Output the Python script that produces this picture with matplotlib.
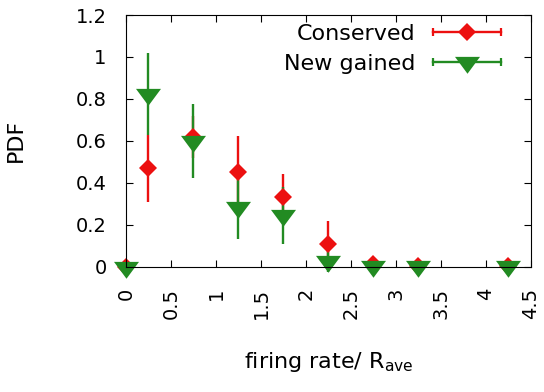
"""PDF of firing rates: conserved vs newly gained."""

import matplotlib
matplotlib.use('Agg')
from matplotlib import pyplot as plt
from matplotlib.lines import Line2D
from matplotlib.legend_handler import HandlerLine2D

plt.rcParams['font.family'] = ['DejaVu Sans']
plt.rcParams['mathtext.fontset'] = 'dejavusans'

# data
rate_bins = [0, 0.25, 0.75, 1.25, 1.75, 2.25, 2.75, 3.25, 4.25]
conserved = [0, 0.47, 0.62, 0.45, 0.33, 0.11, 0.015, 0.005, 0.005]
conserved_err = [0, 0.16, 0.10, 0.175, 0.11, 0.11, 0.015, 0.005, 0.005]
gained = [0, 0.825, 0.60, 0.285, 0.245, 0.025, 0.005, 0.005, 0.005]
gained_err = [0, 0.195, 0.175, 0.155, 0.135, 0.05, 0.005, 0.005, 0.005]

x_ticks = [0, 0.5, 1, 1.5, 2, 2.5, 3, 3.5, 4, 4.5]
x_tick_labels = ['0', '0.5', '1', '1.5', '2', '2.5', '3', '3.5', '4', '4.5']
y_ticks = [0, 0.2, 0.4, 0.6, 0.8, 1.0, 1.2]
y_tick_labels = ['0', '0.2', '0.4', '0.6', '0.8', '1', '1.2']

RED = '#ec1010'
GREEN = '#228b22'
# gnuplot-like down triangle, centroid at origin
TRI = [(-1, 0.45), (1, 0.45), (0, -0.9)]

fig = plt.figure(figsize=(5.44, 3.92), dpi=100)
ax = fig.add_axes([0.2316, 0.3196, 0.7445, 0.6421])

err_style = dict(elinewidth=1.7, capsize=2.3, capthick=1.6, ls='none')
ax.errorbar(rate_bins, conserved, yerr=conserved_err, color=RED,
            marker='D', ms=8.7, mew=0, clip_on=False, **err_style)
ax.errorbar(rate_bins, gained, yerr=gained_err, color=GREEN,
            marker=TRI, ms=18, mew=0, clip_on=False, **err_style)

ax.set_xlim(0, 4.5)
ax.set_ylim(0, 1.2)
ax.set_xticks(x_ticks)
ax.set_xticklabels(x_tick_labels, rotation=90)
ax.set_yticks(y_ticks)
ax.set_yticklabels(y_tick_labels)
ax.tick_params(direction='in', top=True, right=True, length=5, width=0.8)
ax.tick_params(axis='x', labelsize=14, pad=15)
ax.tick_params(axis='y', labelsize=14, pad=14)

ax.set_ylabel('PDF', fontsize=16)
ax.yaxis.set_label_coords(-0.247, 0.5)
ax.set_xlabel(r'firing rate/ R$_{\mathregular{ave}}$', fontsize=16, va='top')
ax.xaxis.set_label_coords(0.5, -0.33)

# legend with horizontal bar + caps like gnuplot
cap_red = Line2D([], [], color=RED, lw=1.7, marker='|', ms=6, mew=1.6)
cap_green = Line2D([], [], color=GREEN, lw=1.7, marker='|', ms=6, mew=1.6)
mk_red = Line2D([], [], color=RED, ls='none', marker='D', ms=8.7, mew=0)
mk_green = Line2D([], [], color=GREEN, ls='none', marker=TRI, ms=18, mew=0)
caps = HandlerLine2D(numpoints=2, marker_pad=0)
ax.legend([(cap_red, mk_red), (cap_green, mk_green)],
          ['Conserved', 'New gained'],
          handler_map={cap_red: caps, cap_green: caps},
          loc='upper right', bbox_to_anchor=(0.926, 0.966),
          borderaxespad=0, borderpad=0, frameon=False, markerfirst=False,
          fontsize=16, handlelength=3.06, handletextpad=0.8,
          labelspacing=0.47, numpoints=1)

fig.savefig('out.png', dpi=100)
